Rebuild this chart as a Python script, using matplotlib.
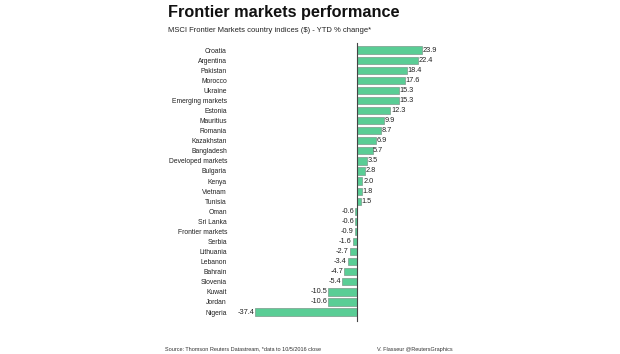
import matplotlib
matplotlib.use("Agg")
import matplotlib.pyplot as plt

countries = ["Croatia", "Argentina", "Pakistan", "Morocco", "Ukraine", "Emerging markets",
             "Estonia", "Mauritius", "Romania", "Kazakhstan", "Bangladesh", "Developed markets",
             "Bulgaria", "Kenya", "Vietnam", "Tunisia", "Oman", "Sri Lanka", "Frontier markets",
             "Serbia", "Lithuania", "Lebanon", "Bahrain", "Slovenia", "Kuwait", "Jordan", "Nigeria"]
values = [23.9, 22.4, 18.4, 17.6, 15.3, 15.3, 12.3, 9.9, 8.7, 6.9, 5.7, 3.5, 2.8, 2.0, 1.8, 1.5,
          -0.6, -0.6, -0.9, -1.6, -2.7, -3.4, -4.7, -5.4, -10.5, -10.6, -37.4]

plt.rcParams['font.family'] = ['Liberation Sans', 'DejaVu Sans']

fig = plt.figure(figsize=(6.2, 3.54), dpi=100)
fig.patch.set_facecolor('white')

n = len(countries)
top_px, bot_px = 42.5, 318.6
ax = fig.add_axes([240/620, 1-bot_px/354, 200/620, (bot_px-top_px)/354])
pos = list(range(n))
ax.barh(pos, values, height=0.72, color='#5acd95', edgecolor='#7a9a8a', linewidth=0.5, zorder=2)
ax.set_xlim((240-357)/2.72, (440-357)/2.72)
ax.set_ylim(n - 0.35, -0.75)
ax.axvline(0, ymin=-0.008, ymax=1.0, color='#444444', linewidth=0.8, zorder=3, clip_on=False)

for i, v in enumerate(values):
    if v >= 0:
        ax.text(v + 0.25, i, f"{v:.1f}", va='center', ha='left', fontsize=5.3, color='#222222')
    else:
        ax.text(v - 0.35, i, f"{v:.1f}", va='center', ha='right', fontsize=5.3, color='#222222')

ax.set_yticks(pos)
ax.set_yticklabels(countries, fontsize=4.9, color='#222222')
ax.tick_params(axis='y', length=0, pad=9.4)
ax.set_xticks([])
for s in ax.spines.values():
    s.set_visible(False)
ax.set_facecolor('none')

fig.text(168/620, 1-13/354, "Frontier markets performance", fontsize=11.7, fontweight='bold',
         va='center', ha='left', color='#111111')
fig.text(168/620, 1-30/354, "MSCI Frontier Markets country indices ($) - YTD % change*",
         fontsize=5.5, va='center', ha='left', color='#222222')
fig.text(165/620, 1-349/354, "Source: Thomson Reuters Datastream, *data to 10/5/2016 close",
         fontsize=3.95, va='center', ha='left', color='#333333')
fig.text(377/620, 1-349/354, "V. Flasseur @ReutersGraphics",
         fontsize=3.95, va='center', ha='left', color='#333333')

fig.savefig("out.png", dpi=100)
